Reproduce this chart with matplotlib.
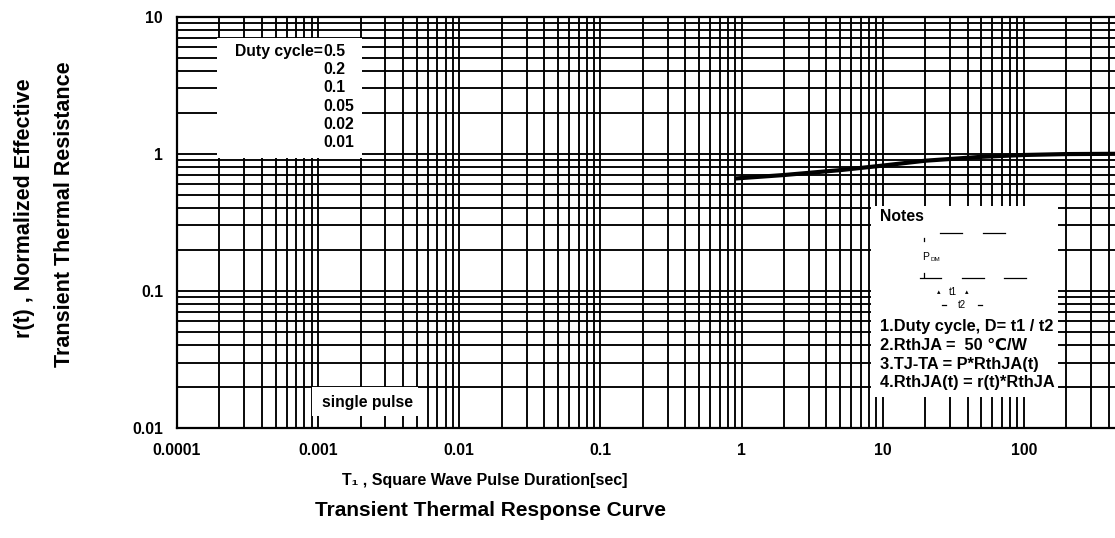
import matplotlib
matplotlib.use("Agg")
import matplotlib.pyplot as plt
from matplotlib.ticker import LogLocator, FixedLocator, FixedFormatter, NullFormatter
from matplotlib.patches import Rectangle

plt.rcParams['font.family'] = ['Liberation Sans', 'DejaVu Sans']
plt.rcParams['font.weight'] = 'bold'

# Normalized transient thermal response r(t) vs pulse duration
pulse_time = [0.9, 2, 5, 10, 20, 50, 100, 200, 500, 1000]
r_t = [0.66, 0.70, 0.76, 0.82, 0.89, 0.95, 0.98, 0.995, 1.0, 1.0]

x_ticks = [1e-4, 1e-3, 1e-2, 1e-1, 1, 10, 100]
x_tick_labels = ["0.0001", "0.001", "0.01", "0.1", "1", "10", "100"]
y_ticks = [0.01, 0.1, 1, 10]
y_tick_labels = ["0.01", "0.1", "1", "10"]

duty_cycles = ["0.5", "0.2", "0.1", "0.05", "0.02", "0.01"]
notes = ["1.Duty cycle, D= t1 / t2",
         "2.RthJA =  50 \u2103/W",
         "3.TJ-TA = P*RthJA(t)",
         "4.RthJA(t) = r(t)*RthJA"]

fs = 11.3

fig = plt.figure(figsize=(11.15, 5.38), dpi=100)
ax = fig.add_axes([0.1587, 0.2045, 0.8861, 0.7645])

ax.set_xscale('log')
ax.set_yscale('log')
ax.set_xlim(1e-4, 1e3)
ax.set_ylim(0.01, 10)

ax.xaxis.set_major_locator(FixedLocator(x_ticks))
ax.xaxis.set_major_formatter(FixedFormatter(x_tick_labels))
ax.yaxis.set_major_locator(FixedLocator(y_ticks))
ax.yaxis.set_major_formatter(FixedFormatter(y_tick_labels))
ax.xaxis.set_minor_locator(LogLocator(base=10, subs=range(1, 10), numticks=20))
ax.yaxis.set_minor_locator(LogLocator(base=10, subs=range(2, 10), numticks=20))
ax.xaxis.set_minor_formatter(NullFormatter())
ax.yaxis.set_minor_formatter(NullFormatter())

ax.tick_params(which='both', length=0)
ax.tick_params(axis='x', pad=11, labelsize=fs)
ax.tick_params(axis='y', pad=10, labelsize=fs)
for lab in ax.get_xticklabels() + ax.get_yticklabels():
    lab.set_fontweight('bold')

ax.set_axisbelow(True)
ax.grid(True, which='both', color='black', linewidth=1.35)
for sp in ax.spines.values():
    sp.set_linewidth(1.6)
    sp.set_color('black')

ax.plot(pulse_time, r_t, color='black', linewidth=3.0,
        solid_capstyle='butt', zorder=5)

# Duty-cycle legend panel
ax.add_patch(Rectangle((0.0405, 0.6565), 0.1467, 0.2917, transform=ax.transAxes,
                       facecolor='white', edgecolor='none', zorder=3))
ys = [0.9142, 0.8704, 0.8266, 0.7805, 0.7367, 0.6929]
ax.text(0.1478, ys[0], "Duty cycle=", transform=ax.transAxes, ha='right',
        va='center', fontsize=fs, fontweight='bold', zorder=4)
for y, d in zip(ys, duty_cycles):
    ax.text(0.1478, y, d, transform=ax.transAxes, ha='left', va='center',
            fontsize=fs, fontweight='bold', zorder=4)

# Single pulse label
ax.add_patch(Rectangle((0.1366, 0.0292), 0.1073, 0.0705, transform=ax.transAxes,
                       facecolor='white', edgecolor='none', zorder=3))
ax.text(0.1928, 0.0615, "single pulse", transform=ax.transAxes, ha='center',
        va='center', fontsize=fs, fontweight='bold', zorder=4)

# Notes panel
ax.add_patch(Rectangle((0.7024, 0.0754), 0.1893, 0.4644, transform=ax.transAxes,
                       facecolor='white', edgecolor='none', zorder=3))
ax.text(0.7115, 0.5137, "Notes", transform=ax.transAxes, ha='left', va='center',
        fontsize=fs, fontweight='bold', zorder=4)
for y, t in zip([0.2463, 0.2018, 0.1532, 0.1094], notes):
    ax.text(0.7115, y, t, transform=ax.transAxes, ha='left', va='center',
            fontsize=11.8, fontweight='bold', zorder=4)

# Pulse train sketch inside the notes panel
kw = dict(transform=ax.transAxes, color='black', linewidth=0.9, zorder=4)
for x0, x1 in [(0.7723, 0.7948), (0.8155, 0.8381)]:
    ax.plot([x0, x1], [0.4748, 0.4748], **kw)
for x0, x1 in [(0.7520, 0.7733), (0.7942, 0.8168), (0.8370, 0.8593)]:
    ax.plot([x0, x1], [0.3647, 0.3647], **kw)
ax.plot([0.7561, 0.7561], [0.4534, 0.4631], **kw)
ax.plot([0.7561, 0.7561], [0.3672, 0.3769], **kw)
ax.text(0.7545, 0.4158, "P", transform=ax.transAxes, ha='left', va='center',
        fontsize=7.5, fontweight='normal', zorder=4)
ax.text(0.7625, 0.4100, "DM", transform=ax.transAxes, ha='left', va='center',
        fontsize=4.5, fontweight='normal', zorder=4)
ax.text(0.7854, 0.3302, "t1", transform=ax.transAxes, ha='center', va='center',
        fontsize=7, fontweight='normal', zorder=4)
ax.text(0.7712, 0.3302, "\u25b4", transform=ax.transAxes, ha='center', va='center',
        fontsize=5, fontweight='normal', zorder=4)
ax.text(0.7996, 0.3302, "\u25b4", transform=ax.transAxes, ha='center', va='center',
        fontsize=5, fontweight='normal', zorder=4)
ax.text(0.7945, 0.2986, "t2", transform=ax.transAxes, ha='center', va='center',
        fontsize=7, fontweight='normal', zorder=4)
ax.plot([0.7740, 0.7786], [0.2986, 0.2986], **kw)
ax.plot([0.8105, 0.8151], [0.2986, 0.2986], **kw)

# Axis titles
fig.text(0.0224, 0.6134, "r(t) , Normalized Effective", rotation=90,
         ha='center', va='center', fontsize=15.5, fontweight='bold')
fig.text(0.0574, 0.6022, "Transient Thermal Resistance", rotation=90,
         ha='center', va='center', fontsize=15.5, fontweight='bold')
fig.text(0.435, 1 - 480 / 538, "T\u2081 , Square Wave Pulse Duration[sec]",
         ha='center', va='center', fontsize=11.5, fontweight='bold')
fig.text(0.44, 1 - 510 / 538, "Transient Thermal Response Curve",
         ha='center', va='center', fontsize=15, fontweight='bold')

fig.savefig("out.png", dpi=100)
